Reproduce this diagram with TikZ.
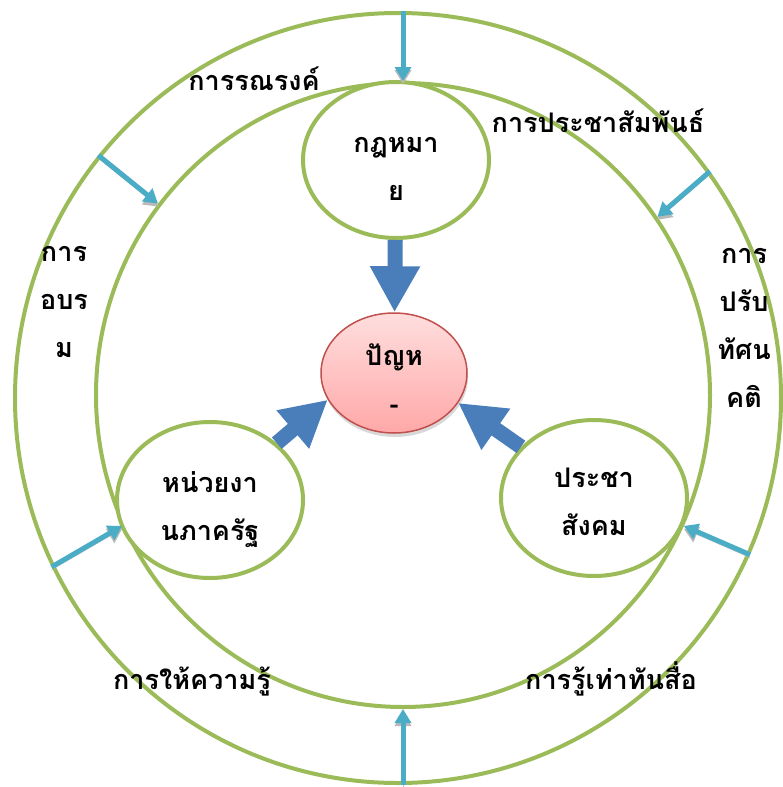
\documentclass[tikz,border=0pt]{standalone}
\usepackage{fontspec}
\newfontfamily\thaifont[Script=Thai]{Loma}
\usepackage{tikz}
\usetikzlibrary{positioning,shapes.geometric,arrows.meta,shadows}
\definecolor{ringgreen}{HTML}{9BBB59}
\definecolor{feedcyan}{HTML}{4BACC6}
\definecolor{pushblue}{HTML}{4A7EBB}
\definecolor{probred}{HTML}{C0504D}
\definecolor{probtop}{HTML}{FFDEDE}
\definecolor{probbot}{HTML}{FFA8A8}

\begin{document}
\begin{tikzpicture}[x=1pt,y=-1pt,
    ring/.style={draw=ringgreen,line width=4pt,ellipse,inner sep=0pt},
    actor/.style={ring,fill=white,minimum width=186pt,minimum height=156pt,align=center,
        text height=80pt,text depth=0pt,font=\thaifont\bfseries\fontsize{27}{48}\selectfont},
    word/.style={align=center,anchor=base,font=\thaifont\bfseries\fontsize{27}{48}\selectfont},
    feed/.style={draw=feedcyan,line width=5pt,-{Triangle[width=16pt,length=14pt]},preaction={draw=gray!55,transform canvas={yshift=-3pt}}},
    push/.style={draw=pushblue,line width=15pt,-{Triangle[width=47pt,length=46pt]}}]
    \useasboundingbox (0,0) rectangle (782,787);
    \node[ring,minimum width=766pt,minimum height=770pt] (outer) at (398,398) {};
    \node[ring,minimum width=614pt,minimum height=624pt] (inner) at (403,395) {};
    \node[actor] (law) at (396,160) {กฎหมา\\ย};
    \node[actor] (gov) at (210,500) {หน่วยงา\\นภาครัฐ};
    \node[actor,text height=74pt] (civil) at (594,498) {ประชา\\สังคม};
    \node[actor,draw=probred,line width=1.5pt,top color=probtop,bottom color=probbot,
        drop shadow={shadow xshift=1pt,shadow yshift=-4pt,fill=gray!60},
        minimum width=146pt,minimum height=120pt,text height=80pt,text depth=-14pt] (problem) at (394,373) {ปัญห\\-};
    \draw[push] (law) -- (problem);
    \draw[push] (gov) -- (problem.202);
    \draw[push] (civil) -- (problem.335);
    % arrows from the outer ring
    \draw[feed] (inner.90 |- outer.90) -- (inner.90);
    \draw[feed] (outer.141) -- (inner.142);
    \draw[feed] (outer.36) -- (inner.35);
    \draw[feed] (outer.206) -- (inner.205);
    \draw[feed] (outer.336) -- (inner.335);
    \draw[feed] (inner.270 |- outer.270) -- (inner.270);
    \node[word] (campaign) at (254,90) {การรณรงค์};
    \node[word] (pr) at (598,132) {การประชาสัมพันธ์};
    \node[word] (training) at (64,357) {การ\\อบร\\ม};
    \node[word] (attitude) at (744,407) {การ\\ปรับ\\ทัศน\\คติ};
    \node[word] (teach) at (192,689) {การให้ความรู้};
    \node[word] (media) at (611,689) {การรู้เท่าทันสื่อ};
\end{tikzpicture}
\end{document}
